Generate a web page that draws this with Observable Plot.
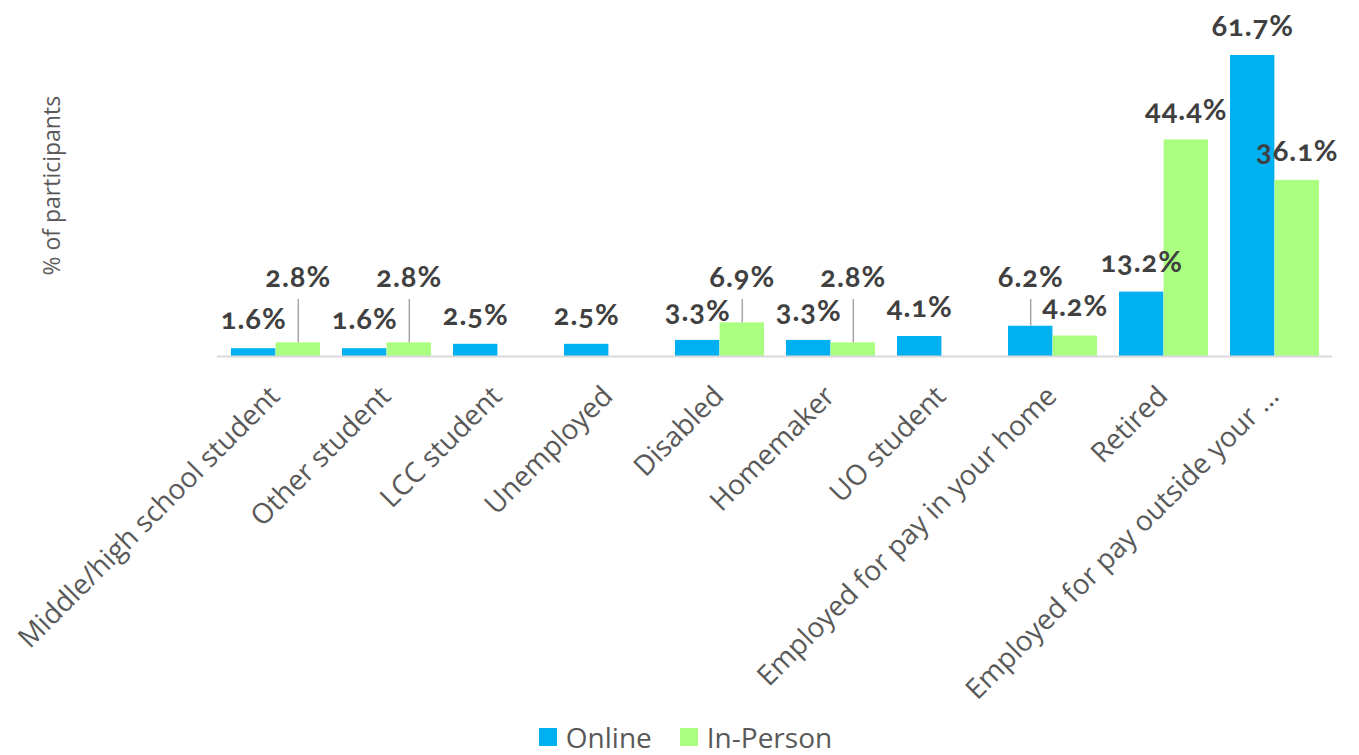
<!DOCTYPE html>
<html>
<head>
<meta charset="utf-8">
<script src="https://cdn.jsdelivr.net/npm/d3@7"></script>
<script src="https://cdn.jsdelivr.net/npm/@observablehq/plot@0.6"></script>
<style>
  html, body { margin: 0; padding: 0; background: #ffffff; }
  #chart svg { display: block; }
  #chart g[font-weight="700"] text { letter-spacing: 1px; font-variant-numeric: oldstyle-nums; font-feature-settings: "onum" 1; }
  #legend { display: flex; justify-content: center; align-items: center; height: 34px; padding-left: 12px; font-family: "Open Sans", sans-serif; font-size: 28px; color: #595959; overflow: visible; }
  #legend .item { display: flex; align-items: center; margin: 0 14px; line-height: 34px; }
  #legend .sw { width: 18px; height: 18px; margin-right: 9px; }
</style>
</head>
<body>
<div id="chart"></div>
<div id="legend"></div>
<script>
// ---- data ----
const categories = [
  "Middle/high school student",
  "Other student",
  "LCC student",
  "Unemployed",
  "Disabled",
  "Homemaker",
  "UO student",
  "Employed for pay in your home",
  "Retired",
  "Employed for pay outside your \u2026"
];
const onlineValues   = [1.6, 1.6, 2.5, 2.5, 3.3, 3.3, 4.1, 6.2, 13.2, 61.7];
const inPersonValues = [2.8, 2.8, null, null, 6.9, 2.8, null, 4.2, 44.4, 36.1];
const seriesNames = ["Online", "In-Person"];
const seriesColors = ["#00B0F0", "#ABFF80"];
const yTitle = "% of participants";
// labels that were lifted onto a common line with leader lines
const liftedLabels = [
  ["Middle/high school student", "In-Person"],
  ["Other student", "In-Person"],
  ["Disabled", "In-Person"],
  ["Homemaker", "In-Person"],
  ["Employed for pay in your home", "Online"]
];

// ---- layout ----
const W = 1359, H = 720;
const marginLeft = 217, marginRight = 27, marginTop = 14.5, marginBottom = 364;
const padInner = 0.2, padOuter = 0.1;
const step = (W - marginLeft - marginRight) / (categories.length - padInner + 2 * padOuter);
const bandW = step * (1 - padInner);
const half = bandW / 2;
const offset = {"Online": -half / 2, "In-Person": half / 2};
const liftedLevel = 16.2;   // y level (scale units) of lifted labels
const leaderTop = 11.7;     // top end of leader lines (scale units)

const rows = [];
categories.forEach((c, i) => {
  if (onlineValues[i] != null) rows.push({category: c, series: "Online", value: onlineValues[i]});
  if (inPersonValues[i] != null) rows.push({category: c, series: "In-Person", value: inPersonValues[i]});
});
const isLifted = d => liftedLabels.some(([c, s]) => c === d.category && s === d.series);
const fmt = d => d.value.toFixed(1) + "%";
const labelStyle = {fontFamily: "Lato, 'Open Sans', sans-serif", fontWeight: 700, fontSize: 29, fill: "#404040"};

function seriesMarks(name, idx) {
  const rs = rows.filter(d => d.series === name);
  return Plot.barY(rs, {
    x: "category", y: "value", fill: seriesColors[idx],
    insetLeft: name === "Online" ? 0 : half,
    insetRight: name === "Online" ? half : 0
  });
}
function labelMarks(name) {
  const rs = rows.filter(d => d.series === name);
  return [
    Plot.ruleX(rs.filter(isLifted), {x: "category", y1: "value", y2: () => leaderTop, dx: offset[name], stroke: "#A6A6A6", strokeWidth: 1.5}),
    Plot.text(rs.filter(d => !isLifted(d)), {x: "category", y: "value", text: fmt, dx: offset[name], dy: -29, ...labelStyle}),
    Plot.text(rs.filter(isLifted), {x: "category", y: () => liftedLevel, text: fmt, dx: offset[name], ...labelStyle})
  ];
}

const chart = Plot.plot({
  width: W, height: H,
  marginLeft, marginRight, marginTop, marginBottom,
  style: {background: "#ffffff", color: "#595959", overflow: "visible"},
  x: {type: "band", domain: categories, paddingInner: padInner, paddingOuter: padOuter, axis: null},
  y: {domain: [0, 70], axis: null},
  marks: [
    seriesMarks("Online", 0),
    seriesMarks("In-Person", 1),
    Plot.ruleY([0], {stroke: "#D9D9D9", strokeWidth: 2}),
    Plot.axisX({
      tickRotate: -45, tickSize: 0, tickPadding: 35, dx: -1,
      fontSize: 28, fontFamily: "'Open Sans', sans-serif", fill: "#595959", label: null
    }),
    ...labelMarks("Online"),
    ...labelMarks("In-Person"),
    Plot.text([yTitle], {
      text: d => d, frameAnchor: "left", textAnchor: "middle", dx: -165, rotate: -90,
      fontSize: 23, fontFamily: "'Open Sans', sans-serif", fill: "#595959"
    })
  ]
});
document.getElementById("chart").appendChild(chart);

// legend
const legend = document.getElementById("legend");
seriesNames.forEach((n, i) => {
  const item = document.createElement("div");
  item.className = "item";
  const sw = document.createElement("span");
  sw.className = "sw";
  sw.style.background = seriesColors[i];
  const t = document.createElement("span");
  t.textContent = n;
  item.appendChild(sw); item.appendChild(t);
  legend.appendChild(item);
});
</script>
</body>
</html>
